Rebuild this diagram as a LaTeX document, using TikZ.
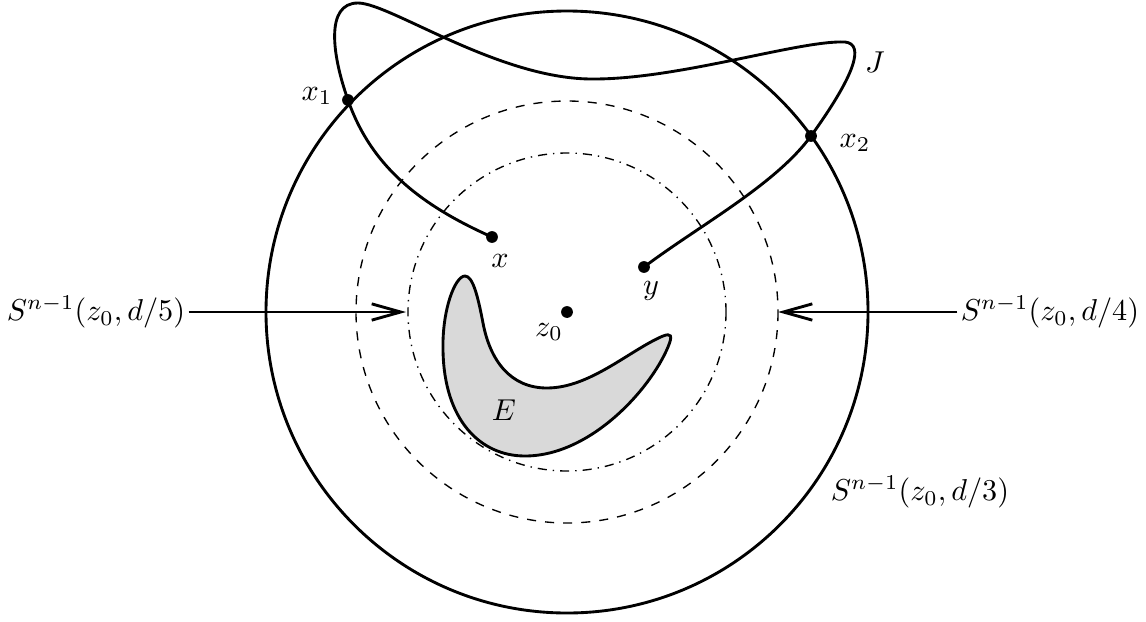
\documentclass[tikz,border=0pt]{standalone}
\usetikzlibrary{arrows.meta}
\begin{document}
\begin{tikzpicture}[x=0.331pt,y=-0.331pt,
  bold/.style={line width=0.95pt},
  thinline/.style={line width=0.45pt},
  dotpt/.style={circle,fill=black,inner sep=0pt,minimum size=3.9pt},
  lab/.style={inner sep=1pt},
  ptr/.style={line width=0.95pt,-{Straight Barb[length=9.6pt,width=5.4pt,line width=0.95pt]}}]
\useasboundingbox (0,0) rectangle (1146,621);
\coordinate (O) at (567,312);
\draw[bold] (O) circle[radius=301];
\draw[thinline,dashed] (O) circle[radius=211];
\draw[thinline,dash dot] (O) circle[radius=159];
% set E
\draw[bold,fill=gray!30]
 (465,276) .. controls (455,276) and (442,310) .. (443,350)
 .. controls (444,420) and (480,456) .. (525,456)
 .. controls (590,456) and (650,390) .. (668,347)
 .. controls (673,335) and (671,333) .. (663,336)
 .. controls (630,350) and (590,388) .. (547,388)
 .. controls (510,388) and (490,360) .. (483,323)
 .. controls (478,297) and (473,276) .. (465,276) -- cycle;
% curve J
\draw[bold]
 (492,237) .. controls (420,205) and (371,166) .. (348,100)
 .. controls (332,55) and (325,3) .. (358,3)
 .. controls (390,3) and (500,80) .. (594,79)
 .. controls (680,79) and (800,40) .. (845,42)
 .. controls (865,44) and (855,75) .. (811,136)
 .. controls (775,185) and (700,225) .. (644,267);
% points
\node[dotpt] (x) at (492,237) {};
\node[dotpt] (y) at (644,267) {};
\node[dotpt] (z) at (567,312) {};
\node[dotpt] (x1) at (348,100) {};
\node[dotpt] (x2) at (811,136) {};
% labels
\node[lab] (lx1) at (317,96) {$x_1$};
\node[lab] (lx2) at (855,143) {$x_2$};
\node[lab] (lJ) at (875,62) {$J$};
\node[lab] (lx) at (500,261) {$x$};
\node[lab] (ly) at (651,291) {$y$};
\node[lab] (lz) at (549,332) {$z_0$};
\node[lab] (lE) at (504,410) {$E$};
\node[lab] (l3) at (920,492) {$S^{n-1}(z_0,d/3)$};
% pointers
\node[lab] (l5) at (96,312) {$S^{n-1}(z_0,d/5)$};
\node[lab] (l4) at (1050,312) {$S^{n-1}(z_0,d/4)$};
\coordinate (t5) at (406,312);
\coordinate (t4) at (778,312);
\draw[ptr] (l5.east) -- (t5);
\draw[ptr] (l4.west) -- (t4);
\end{tikzpicture}
\end{document}
